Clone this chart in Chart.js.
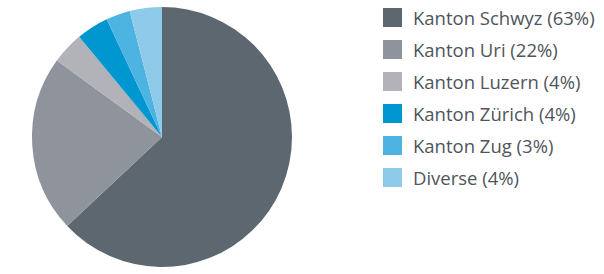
<!DOCTYPE html>
<html>
<head>
<meta charset="utf-8">
<script src="https://cdn.jsdelivr.net/npm/chart.js@4"></script>
<style>
  html, body { margin: 0; padding: 0; background: #fff; }
  #wrap { position: relative; width: 604px; height: 274px; }
  #pie { position: absolute; left: 0; top: 0; }
  #legend { position: absolute; left: 383px; top: 1px; font-family: "Open Sans", sans-serif; font-size: 18.5px; color: #50555b; }
  .row { height: 32px; display: flex; align-items: center; }
  .sw { width: 19px; height: 19px; margin-right: 11px; flex: none; }
</style>
</head>
<body>
<div id="wrap">
  <canvas id="pie" width="324" height="274"></canvas>
  <div id="legend"></div>
</div>
<script>
const labels = ['Kanton Schwyz', 'Kanton Uri', 'Kanton Luzern', 'Kanton Zürich', 'Kanton Zug', 'Diverse'];
const values = [63, 22, 4, 4, 3, 4];
const colors = ['#5d6770', '#8f939b', '#b1b3b8', '#0096d0', '#4db3e0', '#8ecbeb'];

function renderPieChart() {
  const ctx = document.getElementById('pie');
  new Chart(ctx, {
    type: 'pie',
    data: {
      labels: labels,
      datasets: [{
        data: values,
        backgroundColor: colors,
        borderWidth: 0
      }]
    },
    options: {
      responsive: false,
      animation: false,
      layout: { padding: { top: 7, bottom: 7 } },
      plugins: { legend: { display: false }, tooltip: { enabled: false } }
    }
  });
}

function renderLegend() {
  const el = document.getElementById('legend');
  labels.forEach((l, i) => {
    const row = document.createElement('div');
    row.className = 'row';
    row.innerHTML = '<div class="sw" style="background:' + colors[i] + '"></div><span>' + l + ' (' + values[i] + '%)</span>';
    el.appendChild(row);
  });
}

renderPieChart();
renderLegend();
</script>
</body>
</html>
